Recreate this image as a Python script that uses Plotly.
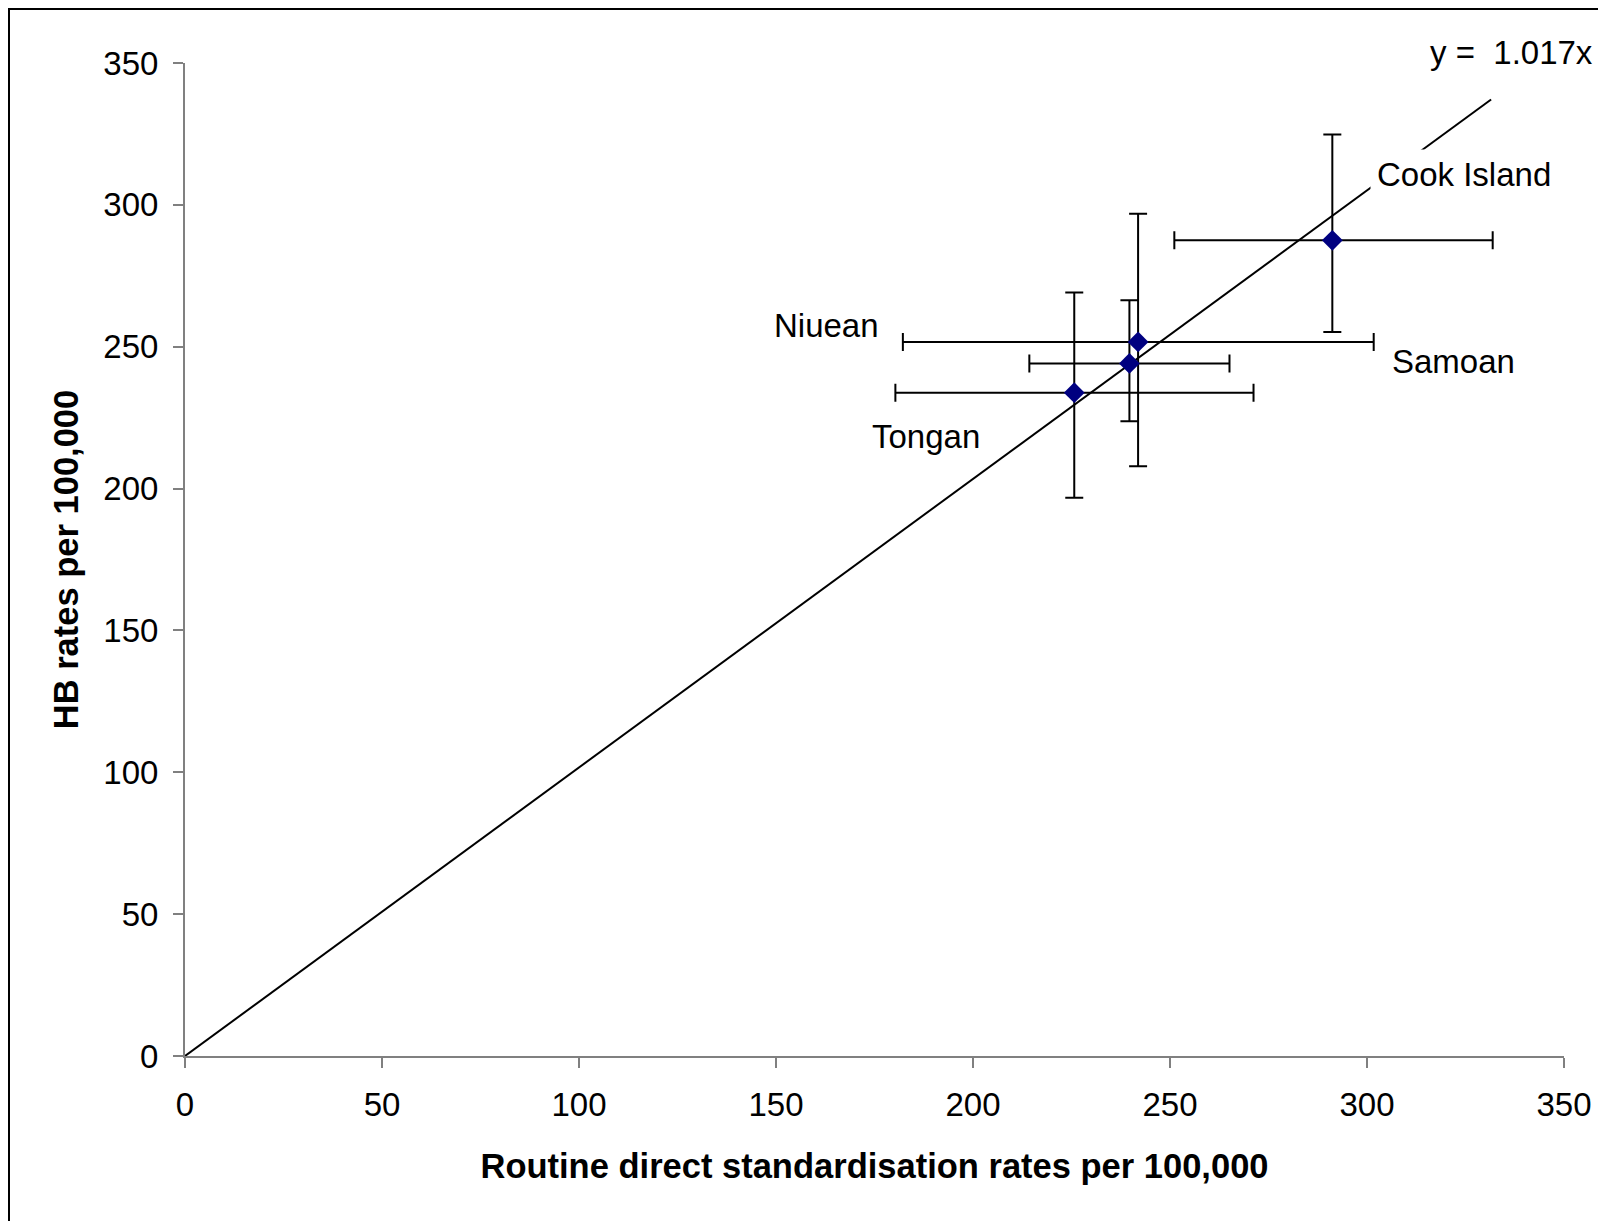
import plotly.graph_objects as go

# ---- data ----
groups = ["Cook Island", "Niuean", "Samoan", "Tongan"]
routine_rate = [291.2, 241.9, 239.7, 225.7]
routine_low = [251.1, 182.2, 214.3, 180.3]
routine_high = [331.9, 301.7, 265.1, 271.2]
hb_rate = [287.5, 251.7, 244.1, 233.8]
hb_low = [255.2, 207.9, 223.7, 196.8]
hb_high = [324.8, 296.9, 266.4, 269.1]

trend_slope = 1.017
trend_x = [0, 331.5]
trend_y = [trend_slope * v for v in trend_x]

axis_ticks = [0, 50, 100, 150, 200, 250, 300, 350]

# label positions (data coords)
label_text = ["Cook Island", "Niuean", "Samoan", "Tongan"]
label_x = [324.5, 162.9, 322.0, 188.0]
label_y = [310.8, 257.6, 244.7, 218.4]

FONT = "Liberation Sans, Arial, sans-serif"

fig = go.Figure()

fig.add_trace(go.Scatter(
    x=trend_x, y=trend_y, mode="lines",
    line=dict(color="black", width=2),
    showlegend=False, hoverinfo="skip",
))

fig.add_trace(go.Scatter(
    x=routine_rate, y=hb_rate, mode="markers",
    marker=dict(symbol="diamond", size=16, color="#000080"),
    error_x=dict(type="data", symmetric=False,
                 array=[h - r for h, r in zip(routine_high, routine_rate)],
                 arrayminus=[r - l for r, l in zip(routine_rate, routine_low)],
                 color="black", thickness=2, width=9),
    error_y=dict(type="data", symmetric=False,
                 array=[h - r for h, r in zip(hb_high, hb_rate)],
                 arrayminus=[r - l for r, l in zip(hb_rate, hb_low)],
                 color="black", thickness=2, width=9),
    showlegend=False,
))

annotations = []
for t, x, y in zip(label_text, label_x, label_y):
    annotations.append(dict(
        x=x, y=y, xref="x", yref="y", text=t, showarrow=False,
        font=dict(family=FONT, size=33, color="black"),
        bgcolor="white", borderpad=6,
        xanchor="center", yanchor="middle",
    ))
annotations.append(dict(
    x=0.962, y=1.011, xref="paper", yref="paper",
    text="y =&nbsp; 1.017x", showarrow=False,
    font=dict(family=FONT, size=33, color="black"),
    xanchor="center", yanchor="middle",
))

axis_common = dict(
    range=[0, 350], tickmode="array", tickvals=axis_ticks,
    ticktext=[str(v) for v in axis_ticks],
    showgrid=False, zeroline=False,
    showline=True, linecolor="#808080", linewidth=2,
    ticks="outside", ticklen=10, tickwidth=2, tickcolor="#808080",
    tickfont=dict(family=FONT, size=33, color="black"),
)

ML, MR, MT, MB = 177, 50, 55, 173
PW, PH = 1606 - ML - MR, 1221 - MT - MB

fig.update_layout(
    width=1606, height=1221,
    margin=dict(l=ML, r=MR, t=MT, b=MB),
    paper_bgcolor="white", plot_bgcolor="white",
    xaxis=dict(**axis_common,
               ticklabelstandoff=8,
               title=dict(text="<b>Routine direct standardisation rates per 100,000</b>",
                          font=dict(family=FONT, size=34.5, color="black"),
                          standoff=32)),
    yaxis=dict(**axis_common,
               ticklabelstandoff=8,
               title=dict(text="<b>HB rates per 100,000</b>",
                          font=dict(family=FONT, size=34.5, color="black"),
                          standoff=14)),
    annotations=annotations,
    shapes=[dict(type="rect", xref="paper", yref="paper",
                 x0=(1 - ML) / PW, x1=1.1, y0=-0.3, y1=(PH + MT - 1) / PH,
                 line=dict(color="black", width=2), layer="below")],
)

fig.write_html("out.html")
